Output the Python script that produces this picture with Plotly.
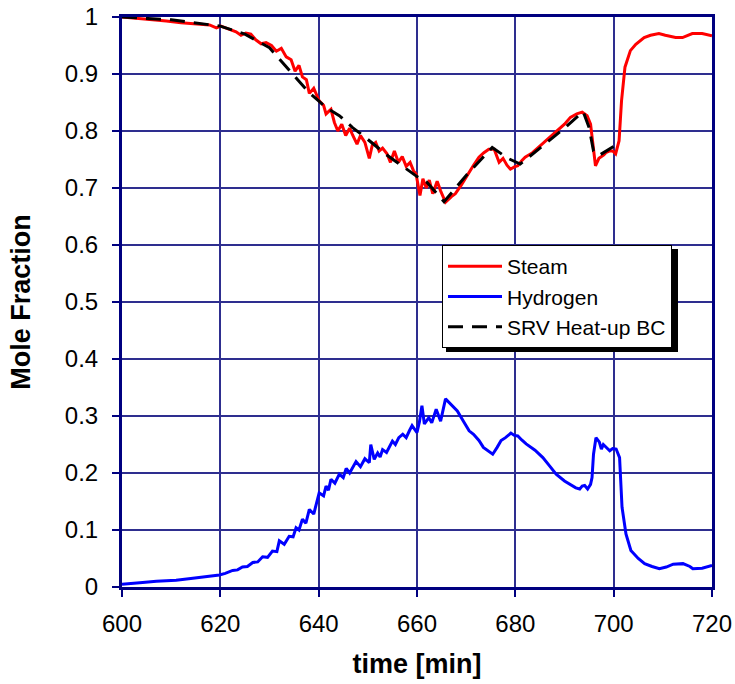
import plotly.graph_objects as go

steam_t = [600, 603, 606, 609, 612, 615, 617.8, 619.2, 620.1, 622, 623.2, 624.2, 625.2, 626.2, 627.2, 628.3, 629.3,
           630.4, 631.4, 632.4, 633.4, 634.4, 635.2, 636, 636.7, 637.5, 638.1, 639, 640.1, 641, 641.5, 642.5, 643.2,
           643.9, 644.7, 645.5, 646.3, 646.9, 647.8, 648.5, 649.4, 650.3, 650.9, 651.6, 652.3, 653, 653.9, 654.6,
           655.4, 656.2, 657, 657.8, 658.6, 659.3, 659.8, 660.6, 661.2, 661.9, 662.5, 663.2, 664.1, 664.8, 665.8,
           667, 667.8, 669, 670.5, 671.5, 672.6, 673.6, 674.6, 675.7, 676.7, 677.5, 678.3, 679, 679.8, 680.5, 681.3,
           682, 683.5, 685.4, 687, 688.8, 690, 691.2, 692.5, 693.6, 694.6, 695.3, 695.8, 696.3, 697.0, 697.4, 698,
           698.4, 699.2, 699.8, 700.4, 701.1, 701.6, 702.3, 703.4, 704.5, 706.2, 707.5, 709.2, 710.5, 712.6, 714,
           715, 716, 718, 720]
steam_v = [1.000, 0.998, 0.995, 0.993, 0.990, 0.988, 0.986, 0.981, 0.984, 0.978, 0.974, 0.968, 0.972, 0.970, 0.960,
           0.953, 0.955, 0.950, 0.940, 0.945, 0.930, 0.925, 0.905, 0.915, 0.895, 0.890, 0.866, 0.875, 0.853, 0.845,
           0.830, 0.838, 0.815, 0.800, 0.812, 0.792, 0.805, 0.793, 0.777, 0.792, 0.780, 0.752, 0.775, 0.780, 0.765,
           0.770, 0.760, 0.745, 0.765, 0.745, 0.755, 0.738, 0.745, 0.730, 0.725, 0.687, 0.716, 0.700, 0.714, 0.690,
           0.712, 0.695, 0.675, 0.685, 0.690, 0.705, 0.727, 0.740, 0.754, 0.762, 0.768, 0.768, 0.745, 0.752, 0.740,
           0.733, 0.737, 0.739, 0.748, 0.754, 0.762, 0.777, 0.790, 0.803, 0.812, 0.824, 0.830, 0.833, 0.827, 0.812,
           0.770, 0.739, 0.752, 0.754, 0.758, 0.762, 0.765, 0.765, 0.760, 0.783, 0.853, 0.912, 0.941, 0.952, 0.964,
           0.968, 0.971, 0.968, 0.964, 0.964, 0.968, 0.971, 0.971, 0.967]

h2_t = [600, 602, 604.2, 607, 611, 614, 616.4, 618, 619.8, 621, 622.5, 623.5, 624.5, 625.5, 626.6, 627.6, 628.6,
        629.6, 630.6, 631.5, 632, 633, 634, 634.8, 635.4, 636, 636.7, 637.4, 638.1, 639, 640.1, 641, 641.5, 642,
        642.5, 643.3, 644.2, 645, 645.6, 646.3, 647.6, 648.5, 649.4, 650.3, 650.6, 651.3, 652, 652.5, 653, 653.8,
        655, 655.6, 656.3, 657.1, 657.8, 658.5, 659, 660, 660.5, 661, 661.5, 662.4, 663, 663.9, 664.8, 665.8, 667,
        668.2, 669.5, 670.6, 671.5, 672.6, 673.5, 674.4, 675.4, 676.3, 677.1, 678, 679.1, 679.8, 680.5, 681.3,
        682.2, 684, 685.6, 687, 688.3, 690, 691.4, 692.3, 693.1, 693.6, 694.1, 694.7, 695.3, 695.6, 695.9, 696.4,
        697.1, 697.5, 697.9, 698.5, 699.2, 699.8, 700.5, 701.2, 701.7, 702.5, 703.5, 705, 706.3, 707.8, 709.3,
        710.7, 712.1, 714.1, 715.5, 716.1, 718, 720]
h2_v = [0.005, 0.006, 0.008, 0.010, 0.012, 0.015, 0.018, 0.020, 0.021, 0.024, 0.029, 0.030, 0.035, 0.036, 0.043,
        0.044, 0.053, 0.052, 0.063, 0.062, 0.081, 0.075, 0.089, 0.088, 0.104, 0.100, 0.119, 0.112, 0.136, 0.128,
        0.165, 0.160, 0.177, 0.170, 0.189, 0.182, 0.198, 0.192, 0.208, 0.200, 0.220, 0.211, 0.225, 0.218, 0.250,
        0.224, 0.235, 0.228, 0.241, 0.236, 0.256, 0.250, 0.262, 0.268, 0.262, 0.275, 0.283, 0.271, 0.290, 0.318,
        0.286, 0.297, 0.288, 0.312, 0.291, 0.330, 0.320, 0.309, 0.290, 0.274, 0.268, 0.257, 0.245, 0.239, 0.233,
        0.245, 0.257, 0.262, 0.270, 0.266, 0.265, 0.258, 0.251, 0.240, 0.227, 0.212, 0.198, 0.186, 0.178, 0.174,
        0.172, 0.177, 0.178, 0.172, 0.180, 0.192, 0.233, 0.262, 0.254, 0.242, 0.250, 0.244, 0.239, 0.243, 0.242,
        0.227, 0.140, 0.093, 0.064, 0.050, 0.041, 0.036, 0.032, 0.035, 0.040, 0.041, 0.036, 0.032, 0.033, 0.038,
        0.038]

bc_t = [600, 610, 620, 625, 630, 634.4, 638.1, 640, 641.5, 644.2, 646.9, 649.6, 653.7, 658.4, 660, 662, 665.5,
        670, 675.3, 678.5, 681, 685, 690, 693.8, 695.0, 695.9, 697.0, 700.0]
bc_v = [1.000, 0.995, 0.984, 0.970, 0.946, 0.903, 0.867, 0.853, 0.841, 0.827, 0.806, 0.788, 0.759, 0.730, 0.720,
        0.710, 0.676, 0.722, 0.771, 0.752, 0.742, 0.770, 0.805, 0.834, 0.806, 0.765, 0.757, 0.773]

x_ticks = [600, 620, 640, 660, 680, 700, 720]
y_ticks = [0, 0.1, 0.2, 0.3, 0.4, 0.5, 0.6, 0.7, 0.8, 0.9, 1]

FONT = "Arial, Liberation Sans, sans-serif"
GRID = "#2e2e8f"
BORDER = "#000080"

fig = go.Figure()
fig.add_trace(go.Scatter(x=steam_t, y=steam_v, mode="lines", name="Steam",
                         line=dict(color="#ff0000", width=3)))
fig.add_trace(go.Scatter(x=h2_t, y=h2_v, mode="lines", name="Hydrogen",
                         line=dict(color="#0000ff", width=3)))
fig.add_trace(go.Scatter(x=bc_t, y=bc_v, mode="lines", name="SRV Heat-up BC",
                         line=dict(color="#000000", width=3, dash="15px,9px")))

L, R, T, B = 122, 23, 17, 97
W, H = 735, 684
pw, ph = W - L - R, H - T - B
# legend box in pixels (expected size of plotly legend)
lx0, ly0, lw, lh = 442, 245, 232, 103
def px2x(p):
    return (p - L) / pw
def px2y(p):
    return (H - B - p) / ph

fig.add_shape(type="rect", xref="paper", yref="paper",
              x0=px2x(lx0 + 4), x1=px2x(lx0 + lw + 4), y0=px2y(ly0 + lh + 4), y1=px2y(ly0 + 4),
              fillcolor="black", line=dict(width=0), layer="above")

fig.update_layout(
    width=W, height=H,
    margin=dict(l=L, r=R, t=T, b=B),
    paper_bgcolor="white", plot_bgcolor="white",
    font=dict(family=FONT, size=24, color="black"),
    showlegend=True,
    legend=dict(x=px2x(lx0), y=px2y(ly0), xanchor="left", yanchor="top",
                bgcolor="white", bordercolor="black", borderwidth=1,
                font=dict(family=FONT, size=21, color="black"),
                tracegroupgap=0, itemwidth=54),
    xaxis=dict(range=[600, 720], tickvals=x_ticks, ticktext=[str(v) for v in x_ticks],
               showgrid=True, gridcolor=GRID, gridwidth=1.5, automargin=False,
               showline=True, linecolor=BORDER, linewidth=3, mirror=True,
               ticks="outside", ticklen=7, tickcolor=BORDER, tickwidth=1.5,
               ticklabelstandoff=6, tickfont=dict(size=24),
               zeroline=False,
               title=dict(text="<b>time [min]</b>", font=dict(family=FONT, size=27), standoff=19)),
    yaxis=dict(range=[0, 1], tickvals=y_ticks, ticktext=[f"{v:g}" for v in y_ticks],
               showgrid=True, gridcolor=GRID, gridwidth=1.5, automargin=False,
               showline=True, linecolor=BORDER, linewidth=3, mirror=True,
               ticks="outside", ticklen=7, tickcolor=BORDER, tickwidth=1.5,
               ticklabelstandoff=9, tickfont=dict(size=24),
               zeroline=False,
               title=dict(text="<b>Mole Fraction</b>", font=dict(family=FONT, size=27), standoff=27)),
)

fig.write_html("out.html", config={"displayModeBar": False},
               post_script="document.body.style.margin='0';")
